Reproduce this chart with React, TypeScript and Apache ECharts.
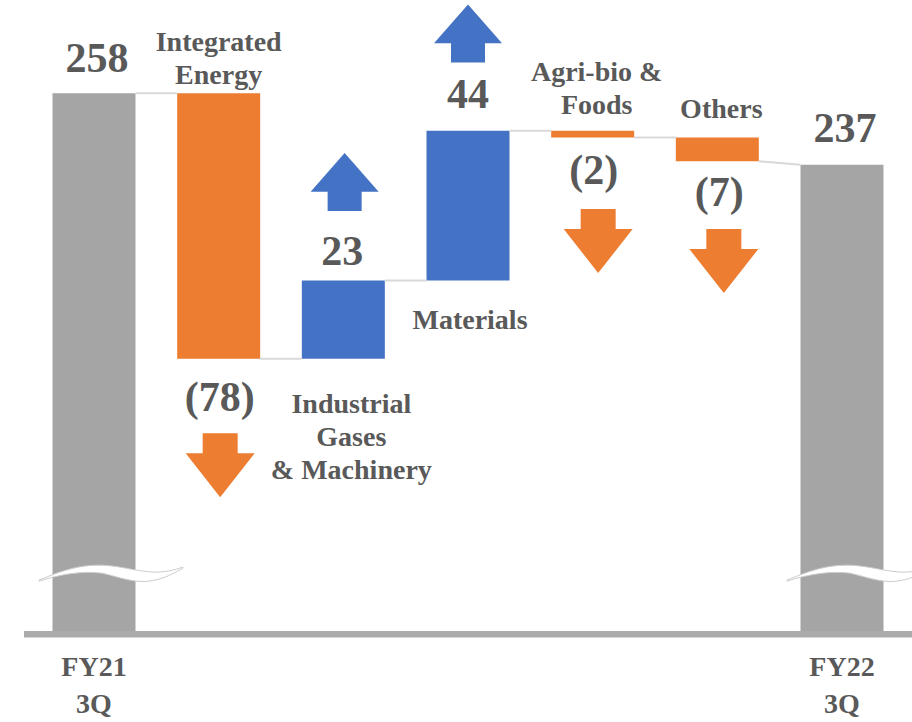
import React, { useEffect, useRef } from "react";
import * as echarts from "echarts";

// ---- data ----
const periodLabels = ["FY21\n3Q", "FY22\n3Q"];
const startValue = 258;
const endValue = 237;
const segmentNames = [
  "Integrated\nEnergy",
  "Industrial\nGases\n& Machinery",
  "Materials",
  "Agri-bio &\nFoods",
  "Others",
];
const segmentDeltas = [-78, 23, 44, -2, -7];

// ---- layout / style (pixel offsets of annotations from the bar ends) ----
const nameAnchor = ["top", "bottom", "bottom", "top", "top"];
const nameOffsets = [[0, -35], [8, 78], [2, 39], [4, -43], [4, -29]];
const valueOffsets = [[3, -35], [1, 38], [-1, -29.5], [0, -37], [1, 32.5], [2, 31], [3, -37]];
const arrowOffsets = [[1.5, 106.6], [1.3, -98.4], [0, -97.2], [5.5, 103.5], [6.5, 99.7]];
const AXIS_MIN = 100;
const AXIS_MAX = 285.4;
const BREAK_VALUE = 117;
const BAR_W = 83;
const GRAY = "#a5a5a5";
const ORANGE = "#ed7d31";
const BLUE = "#4472c4";
const TEXT = "#595959";
const FONT = "'Liberation Serif', 'Times New Roman', serif";
const UP_ARROW = "path://M34,0 L68,38 L51,38 L51,57 L17,57 L17,38 L0,38 Z";
const DOWN_ARROW = "path://M17,0 L52,0 L52,20 L69,20 L34.5,64 L0,20 L17,20 Z";

// wave break shape (relative to bar centre / break level), cubic segments
const waveSegs: number[][][] = [
  [[-55, 7], [-40, 1], [-20, -8], [4, -8]],
  [[4, -8], [25, -8], [40, -2], [60, -1]],
  [[60, -1], [75, -1], [82, -4], [89, -6]],
  [[89, -5], [80, 0], [70, 6], [55, 8]],
  [[55, 8], [40, 10], [25, 4], [8, 0]],
  [[8, 0], [-10, -2], [-30, 0], [-55, 8]],
];
function sampleWave(): number[][] {
  const pts: number[][] = [];
  waveSegs.forEach((s) => {
    for (let k = 0; k <= 10; k++) {
      const t = k / 10;
      const a = (1 - t) ** 3, b = 3 * (1 - t) ** 2 * t, c = 3 * (1 - t) * t * t, d = t ** 3;
      pts.push([
        a * s[0][0] + b * s[1][0] + c * s[2][0] + d * s[3][0],
        a * s[0][1] + b * s[1][1] + c * s[2][1] + d * s[3][1],
      ]);
    }
  });
  return pts;
}
const wavePts = sampleWave();

function buildOption() {
  const n = segmentDeltas.length + 2;
  const categories = [periodLabels[0], ...segmentNames, periodLabels[1]];
  const running: number[] = [];
  let r = startValue;
  segmentDeltas.forEach((d) => {
    r += d;
    running.push(r);
  });
  const tops = [startValue, ...segmentDeltas.map((d, k) => (d < 0 ? running[k] - d : running[k])), endValue];
  const bottoms = [AXIS_MIN, ...segmentDeltas.map((d, k) => (d < 0 ? running[k] : running[k] - d)), AXIS_MIN];
  const baseVals = [0, ...segmentDeltas.map((d, k) => (d < 0 ? running[k] : running[k] - d)), 0];
  const visVals = [startValue, ...segmentDeltas.map((d) => Math.abs(d)), endValue];
  const colors = [GRAY, ...segmentDeltas.map((d) => (d < 0 ? ORANGE : BLUE)), GRAY];
  const levelAfter = [startValue, ...running, endValue];
  const isTotal = (i: number) => i === 0 || i === n - 1;

  const connectorData = levelAfter.map((v, i) => {
    const next = i + 1 === n - 1 ? endValue : v;
    return [i, v, next];
  });

  const valueTexts = [
    String(startValue),
    ...segmentDeltas.map((d) => (d < 0 ? `(${-d})` : `${d}`)),
    String(endValue),
  ];
  const valueAnchors = [
    startValue,
    ...segmentDeltas.map((d, k) => running[k]),
    endValue,
  ];

  const valueLabelData = valueTexts.map((t, i) => ({
    value: [i, valueAnchors[i]],
    label: { formatter: t, offset: valueOffsets[i] },
  }));

  const nameLabelData = segmentNames.map((nm, k) => ({
    value: [k + 1, nameAnchor[k] === "top" ? tops[k + 1] : bottoms[k + 1]],
    label: { formatter: nm, offset: nameOffsets[k] },
  }));

  const arrowData = segmentDeltas.map((d, k) => ({
    value: [k + 1, running[k]],
    symbol: d > 0 ? UP_ARROW : DOWN_ARROW,
    symbolSize: d > 0 ? [68, 58] : [69, 64],
    symbolOffset: arrowOffsets[k],
    itemStyle: { color: d > 0 ? BLUE : ORANGE, opacity: 1 },
  }));

  const labelStyle = {
    show: true,
    position: "inside",
    align: "center",
    verticalAlign: "middle",
    fontFamily: FONT,
    fontWeight: "bold",
    color: TEXT,
    opacity: 1,
  };

  return {
    animation: false,
    backgroundColor: "#ffffff",
    grid: { left: 31.67, right: 7.67, top: 0, bottom: 91, containLabel: false, outerBoundsMode: "none" },
    xAxis: {
      type: "category",
      data: categories,
      axisLine: { show: false },
      axisTick: { show: false },
      axisLabel: {
        interval: 0,
        formatter: (v: string, idx: number) => (isTotal(idx) ? v : ""),
        fontFamily: FONT,
        fontWeight: "bold",
        fontSize: 28,
        lineHeight: 37,
        color: TEXT,
        margin: 17,
      },
      splitLine: { show: false },
    },
    yAxis: { type: "value", min: AXIS_MIN, max: AXIS_MAX, show: false, splitLine: { show: false } },
    graphic: [
      {
        type: "rect",
        shape: { x: 24, y: 631, width: 888, height: 6.5 },
        style: { fill: "#ababab" },
        z: 10,
      },
    ],
    series: [
      {
        type: "bar",
        stack: "w",
        barWidth: BAR_W,
        clip: true,
        silent: true,
        itemStyle: { color: "rgba(0,0,0,0)" },
        data: baseVals,
      },
      {
        type: "bar",
        stack: "w",
        barWidth: BAR_W,
        clip: true,
        data: visVals.map((v, i) => ({ value: v, itemStyle: { color: colors[i] } })),
      },
      {
        type: "custom",
        z: 3,
        silent: true,
        encode: { x: 0, y: 1 },
        data: connectorData,
        renderItem: (params: any, api: any) => {
          const i = api.value(0);
          const p = api.coord([i, api.value(1)]);
          const hw = BAR_W / 2;
          const children: any[] = [];
          if (i < n - 1) {
            const q = api.coord([i + 1, api.value(2)]);
            children.push({
              type: "line",
              shape: { x1: p[0] + hw, y1: p[1], x2: q[0] - hw, y2: q[1] },
              style: { stroke: "#d9d9d9", lineWidth: 2 },
            });
          }
          if (isTotal(i)) {
            const b = api.coord([i, BREAK_VALUE]);
            children.push({
              type: "polygon",
              shape: { points: wavePts.map(([dx, dy]) => [b[0] + dx, b[1] + dy]) },
              style: { fill: "#ffffff", stroke: "#cccccc", lineWidth: 1 },
            });
          }
          return { type: "group", children };
        },
      },
      {
        type: "scatter",
        z: 4,
        silent: true,
        itemStyle: { opacity: 1 },
        data: arrowData,
      },
      {
        type: "scatter",
        z: 5,
        silent: true,
        symbolSize: 1,
        itemStyle: { color: "rgba(0,0,0,0)", opacity: 1 },
        label: { ...labelStyle, fontSize: 42, lineHeight: 48 },
        data: valueLabelData,
      },
      {
        type: "scatter",
        z: 5,
        silent: true,
        symbolSize: 1,
        itemStyle: { color: "rgba(0,0,0,0)", opacity: 1 },
        label: { ...labelStyle, fontSize: 28, lineHeight: 33 },
        data: nameLabelData,
      },
    ],
  };
}

export default function App() {
  const ref = useRef<HTMLDivElement>(null);
  useEffect(() => {
    if (!ref.current) return;
    const chart = echarts.init(ref.current, null, { renderer: "svg" });
    chart.setOption(buildOption() as any);
    return () => chart.dispose();
  }, []);
  return (
    <div
      ref={ref}
      style={{ position: "fixed", left: 0, top: 0, width: 912, height: 722, background: "#fff" }}
    />
  );
}
